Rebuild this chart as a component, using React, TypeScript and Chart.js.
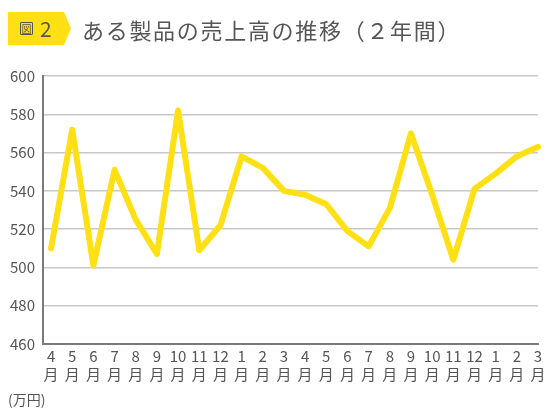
import React, { useEffect, useRef } from "react";
import { Chart, registerables } from "chart.js";

Chart.register(...registerables);

const months = ["4", "5", "6", "7", "8", "9", "10", "11", "12", "1", "2", "3", "4", "5", "6", "7", "8", "9", "10", "11", "12", "1", "2", "3"];
const sales = [510, 572, 501, 551, 525, 507, 582, 509, 522, 558, 552, 540, 538, 533, 519, 511, 531, 570, 538, 504, 541, 549, 558, 563];
const yTicks = [460, 480, 500, 520, 540, 560, 580, 600];

const FONT = "'Noto Sans CJK JP', 'Noto Sans', sans-serif";
const TEXT = "#555555";

export default function App() {
  const ref = useRef<HTMLCanvasElement | null>(null);

  useEffect(() => {
    document.body.style.margin = "0";
    if (!ref.current) return;
    const chart = new Chart(ref.current, {
      type: "line",
      data: {
        datasets: [
          {
            data: sales.map((v, i) => ({ x: i, y: v })),
            borderColor: "#FFE014",
            borderWidth: 6,
            borderJoinStyle: "round",
            borderCapStyle: "round",
            pointRadius: 0,
            tension: 0,
            clip: false as any,
          },
        ],
      },
      options: {
        animation: false,
        responsive: false,
        maintainAspectRatio: false,
        layout: { padding: { top: 76, right: 12, left: 0, bottom: 0 } },
        plugins: { legend: { display: false }, tooltip: { enabled: false } },
        scales: {
          x: {
            type: "linear",
            min: -0.38,
            max: months.length - 1,
            afterBuildTicks: (s: any) => {
              s.ticks = months.map((_, i) => ({ value: i }));
            },
            afterFit: (s: any) => {
              s.height = 68;
            },
            grid: { display: false, drawTicks: false },
            border: { display: true, color: "#7a7a7a", width: 2 },
            ticks: {
              autoSkip: false,
              maxRotation: 0,
              padding: 4,
              color: TEXT,
              font: { family: FONT, size: 15, lineHeight: 1.15 },
              callback: (v: any) => [months[v as number], "月"],
            },
          },
          y: {
            min: 460,
            max: 600,
            afterBuildTicks: (s: any) => {
              s.ticks = yTicks.map((v) => ({ value: v }));
            },
            afterFit: (s: any) => {
              s.width = 43;
            },
            grid: { color: "#c8c8c8", lineWidth: 1.5, drawTicks: false },
            border: { display: true, color: "#7a7a7a", width: 2 },
            ticks: {
              padding: 8,
              color: TEXT,
              font: { family: FONT, size: 15 },
            },
          },
        },
      },
    });
    return () => chart.destroy();
  }, []);

  return (
    <div style={{ position: "relative", width: 550, height: 412, background: "#fff", fontFamily: FONT }}>
      <canvas ref={ref} width={550} height={412} style={{ position: "absolute", left: 0, top: 0 }} />
      <div
        style={{
          position: "absolute",
          left: 8,
          top: 12,
          width: 63,
          height: 33,
          background: "#FFE014",
          clipPath: "polygon(0 0, 89% 0, 100% 50%, 89% 100%, 0 100%)",
        }}
      />
      <div
        style={{
          position: "absolute",
          left: 20,
          top: 22,
          width: 11,
          height: 11,
          border: "1px solid #555",
          borderRadius: 1,
          fontSize: 10,
          lineHeight: "11px",
          textAlign: "center",
          color: TEXT,
        }}
      >
        図
      </div>
      <div style={{ position: "absolute", left: 40, top: 14, fontSize: 21, lineHeight: "28px", color: TEXT }}>2</div>
      <div
        style={{
          position: "absolute",
          left: 82,
          top: 13,
          fontSize: 22,
          lineHeight: "32px",
          letterSpacing: 1.7,
          color: TEXT,
          whiteSpace: "nowrap",
        }}
      >
        ある製品の売上高の推移（２年間）
      </div>
      <div style={{ position: "absolute", left: 8, top: 389, fontSize: 14, lineHeight: "20px", color: TEXT }}>(万円)</div>
    </div>
  );
}
